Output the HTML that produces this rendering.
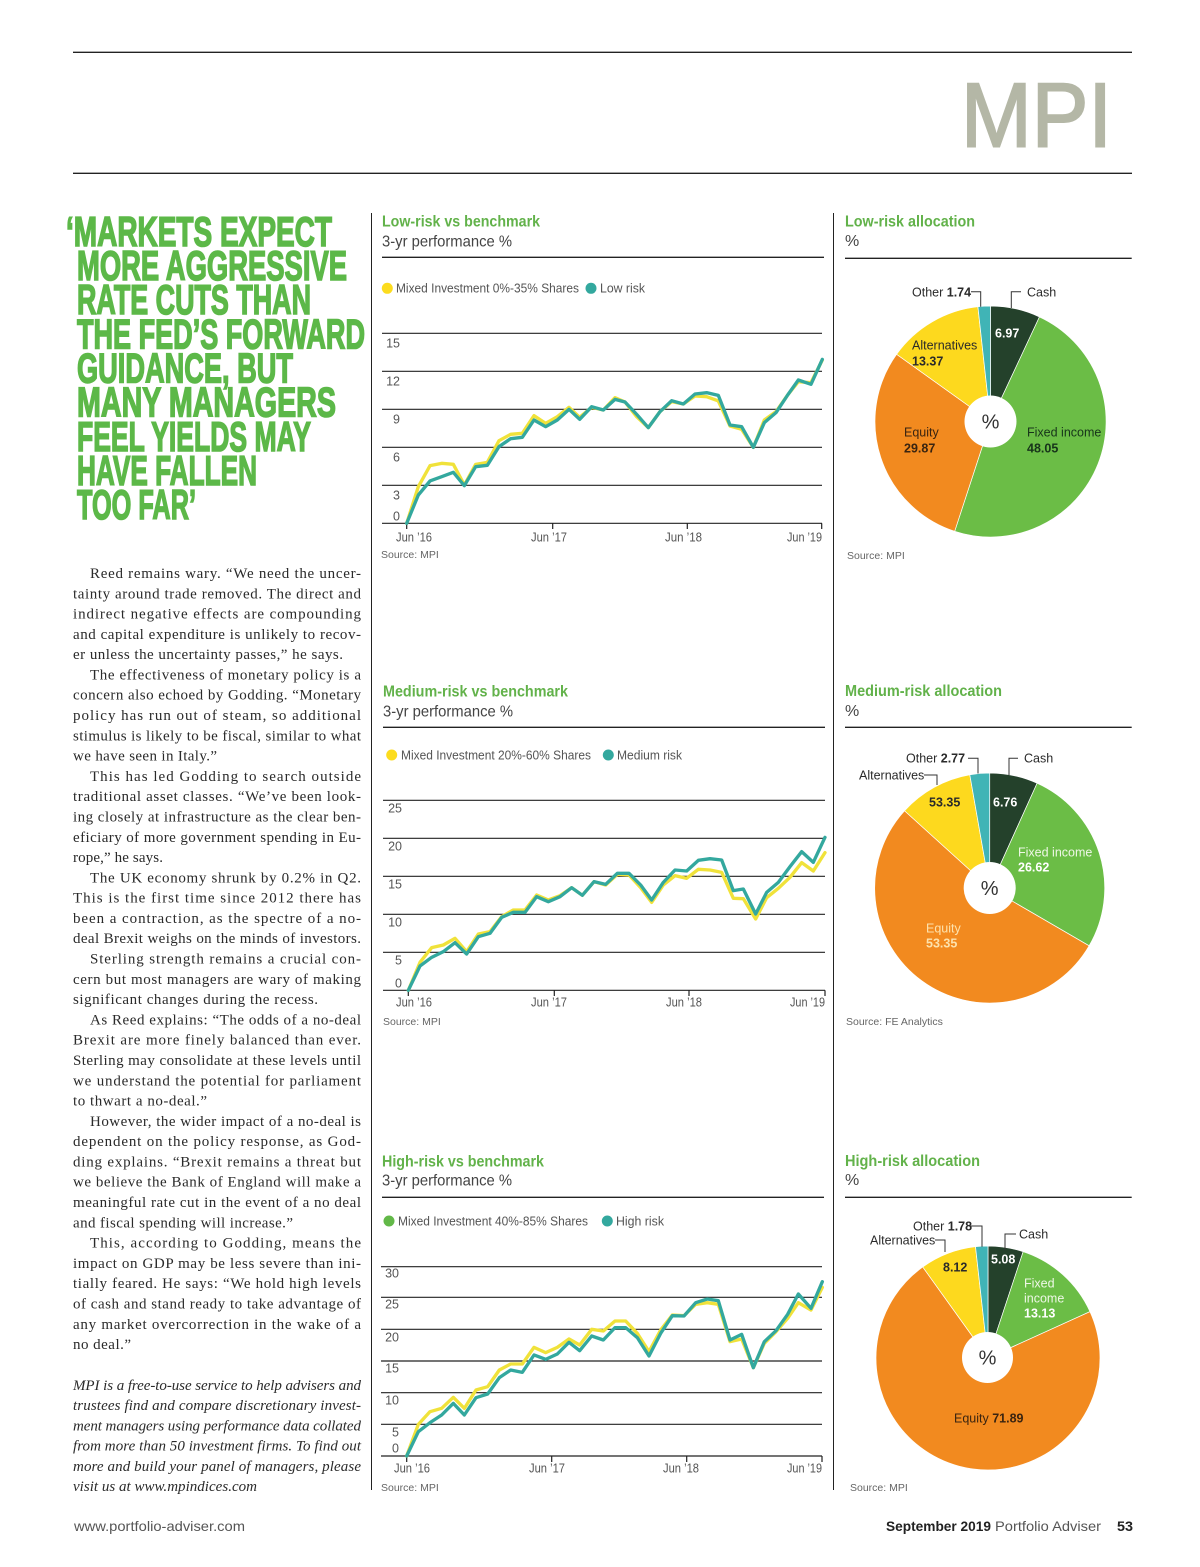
<!DOCTYPE html>
<html><head><meta charset="utf-8">
<style>
html,body{margin:0;padding:0;background:#fff;}
svg{display:block;}
.b{font-family:"Liberation Serif",serif;font-size:15px;fill:#2a2a2a;}
.bi{font-family:"Liberation Serif",serif;font-size:15px;font-style:italic;fill:#2a2a2a;}
.hd{font-family:"Liberation Sans",sans-serif;font-weight:bold;font-size:42px;fill:#5cb848;stroke:#5cb848;stroke-width:1.6;}
.t{font-family:"Liberation Sans",sans-serif;font-weight:bold;font-size:16px;fill:#62b24a;}
.st{font-family:"Liberation Sans",sans-serif;font-size:16px;fill:#444;}
.lg{font-family:"Liberation Sans",sans-serif;font-size:12.5px;fill:#555;}
.tk{font-family:"Liberation Sans",sans-serif;font-size:12.5px;fill:#555;}
.src{font-family:"Liberation Sans",sans-serif;font-size:10.5px;fill:#666;}
.pl{font-family:"Liberation Sans",sans-serif;font-size:12.5px;fill:#2a2a2a;}
.pb{font-weight:bold;}
.ft{font-family:"Liberation Sans",sans-serif;font-size:14px;fill:#555;}
</style></head>
<body>
<svg width="1200" height="1567" viewBox="0 0 1200 1567" xmlns="http://www.w3.org/2000/svg">
<rect width="1200" height="1567" fill="#fff"/>

<!-- header -->
<line x1="73" y1="52.3" x2="1132" y2="52.3" stroke="#222" stroke-width="1.3"/>
<line x1="73" y1="173.3" x2="1132" y2="173.3" stroke="#222" stroke-width="1.3"/>
<text x="961" y="146.5" font-family="Liberation Sans, sans-serif" font-size="91" fill="#b4b7a6" stroke="#b4b7a6" stroke-width="2" textLength="151" lengthAdjust="spacingAndGlyphs">MPI</text>

<!-- vertical dividers -->
<line x1="371.5" y1="213" x2="371.5" y2="1490" stroke="#222" stroke-width="1"/>
<line x1="833.5" y1="213" x2="833.5" y2="1490" stroke="#222" stroke-width="1"/>

<!-- headline -->
<text class="hd" x="66" y="246" textLength="266" lengthAdjust="spacingAndGlyphs">‘MARKETS EXPECT</text>
<text class="hd" x="77" y="280" textLength="270" lengthAdjust="spacingAndGlyphs">MORE AGGRESSIVE</text>
<text class="hd" x="77" y="314" textLength="234" lengthAdjust="spacingAndGlyphs">RATE CUTS THAN</text>
<text class="hd" x="77" y="348.5" textLength="288" lengthAdjust="spacingAndGlyphs">THE FED’S FORWARD</text>
<text class="hd" x="77" y="382.5" textLength="216" lengthAdjust="spacingAndGlyphs">GUIDANCE, BUT</text>
<text class="hd" x="77" y="416.5" textLength="259" lengthAdjust="spacingAndGlyphs">MANY MANAGERS</text>
<text class="hd" x="77" y="451" textLength="234" lengthAdjust="spacingAndGlyphs">FEEL YIELDS MAY</text>
<text class="hd" x="77" y="485" textLength="180" lengthAdjust="spacingAndGlyphs">HAVE FALLEN</text>
<text class="hd" x="77" y="519" textLength="119" lengthAdjust="spacingAndGlyphs">TOO FAR’</text>

<!-- body text -->
<text class="b" x="90" y="578" textLength="271" lengthAdjust="spacing">Reed remains wary. “We need the uncer-</text>
<text class="b" x="73" y="598.3" textLength="288" lengthAdjust="spacing">tainty around trade removed. The direct and</text>
<text class="b" x="73" y="618.6" textLength="288" lengthAdjust="spacing">indirect negative effects are compounding</text>
<text class="b" x="73" y="638.9" textLength="288" lengthAdjust="spacing">and capital expenditure is unlikely to recov-</text>
<text class="b" x="73" y="659.2" textLength="270" lengthAdjust="spacing">er unless the uncertainty passes,” he says.</text>
<text class="b" x="90" y="679.5" textLength="271" lengthAdjust="spacing">The effectiveness of monetary policy is a</text>
<text class="b" x="73" y="699.7" textLength="288" lengthAdjust="spacing">concern also echoed by Godding. “Monetary</text>
<text class="b" x="73" y="720" textLength="288" lengthAdjust="spacing">policy has run out of steam, so additional</text>
<text class="b" x="73" y="740.3" textLength="288" lengthAdjust="spacing">stimulus is likely to be fiscal, similar to what</text>
<text class="b" x="73" y="760.6" textLength="144" lengthAdjust="spacing">we have seen in Italy.”</text>
<text class="b" x="90" y="780.9" textLength="271" lengthAdjust="spacing">This has led Godding to search outside</text>
<text class="b" x="73" y="801.2" textLength="288" lengthAdjust="spacing">traditional asset classes. “We’ve been look-</text>
<text class="b" x="73" y="821.5" textLength="288" lengthAdjust="spacing">ing closely at infrastructure as the clear ben-</text>
<text class="b" x="73" y="841.8" textLength="288" lengthAdjust="spacing">eficiary of more government spending in Eu-</text>
<text class="b" x="73" y="862.1" textLength="90" lengthAdjust="spacing">rope,” he says.</text>
<text class="b" x="90" y="882.4" textLength="271" lengthAdjust="spacing">The UK economy shrunk by 0.2% in Q2.</text>
<text class="b" x="73" y="902.7" textLength="288" lengthAdjust="spacing">This is the first time since 2012 there has</text>
<text class="b" x="73" y="923" textLength="288" lengthAdjust="spacing">been a contraction, as the spectre of a no-</text>
<text class="b" x="73" y="943.2" textLength="288" lengthAdjust="spacing">deal Brexit weighs on the minds of investors.</text>
<text class="b" x="90" y="963.5" textLength="271" lengthAdjust="spacing">Sterling strength remains a crucial con-</text>
<text class="b" x="73" y="983.8" textLength="288" lengthAdjust="spacing">cern but most managers are wary of making</text>
<text class="b" x="73" y="1004.1" textLength="245" lengthAdjust="spacing">significant changes during the recess.</text>
<text class="b" x="90" y="1024.4" textLength="271" lengthAdjust="spacing">As Reed explains: “The odds of a no-deal</text>
<text class="b" x="73" y="1044.7" textLength="288" lengthAdjust="spacing">Brexit are more finely balanced than ever.</text>
<text class="b" x="73" y="1065" textLength="288" lengthAdjust="spacing">Sterling may consolidate at these levels until</text>
<text class="b" x="73" y="1085.3" textLength="288" lengthAdjust="spacing">we understand the potential for parliament</text>
<text class="b" x="73" y="1105.6" textLength="134" lengthAdjust="spacing">to thwart a no-deal.”</text>
<text class="b" x="90" y="1125.9" textLength="271" lengthAdjust="spacing">However, the wider impact of a no-deal is</text>
<text class="b" x="73" y="1146.2" textLength="288" lengthAdjust="spacing">dependent on the policy response, as God-</text>
<text class="b" x="73" y="1166.4" textLength="288" lengthAdjust="spacing">ding explains. “Brexit remains a threat but</text>
<text class="b" x="73" y="1186.7" textLength="288" lengthAdjust="spacing">we believe the Bank of England will make a</text>
<text class="b" x="73" y="1207" textLength="288" lengthAdjust="spacing">meaningful rate cut in the event of a no deal</text>
<text class="b" x="73" y="1227.3" textLength="220" lengthAdjust="spacing">and fiscal spending will increase.”</text>
<text class="b" x="90" y="1247.6" textLength="271" lengthAdjust="spacing">This, according to Godding, means the</text>
<text class="b" x="73" y="1267.9" textLength="288" lengthAdjust="spacing">impact on GDP may be less severe than ini-</text>
<text class="b" x="73" y="1288.2" textLength="288" lengthAdjust="spacing">tially feared. He says: “We hold high levels</text>
<text class="b" x="73" y="1308.5" textLength="288" lengthAdjust="spacing">of cash and stand ready to take advantage of</text>
<text class="b" x="73" y="1328.8" textLength="288" lengthAdjust="spacing">any market overcorrection in the wake of a</text>
<text class="b" x="73" y="1349" textLength="58" lengthAdjust="spacing">no deal.”</text>

<text class="bi" x="73" y="1390" textLength="288" lengthAdjust="spacing">MPI is a free-to-use service to help advisers and</text>
<text class="bi" x="73" y="1410.2" textLength="288" lengthAdjust="spacing">trustees find and compare discretionary invest-</text>
<text class="bi" x="73" y="1430.4" textLength="288" lengthAdjust="spacing">ment managers using performance data collated</text>
<text class="bi" x="73" y="1450.6" textLength="288" lengthAdjust="spacing">from more than 50 investment firms. To find out</text>
<text class="bi" x="73" y="1470.8" textLength="288" lengthAdjust="spacing">more and build your panel of managers, please</text>
<text class="bi" x="73" y="1491" textLength="184" lengthAdjust="spacing">visit us at www.mpindices.com</text>

<!-- ============ LOW RISK LINE CHART ============ -->
<text class="t" x="382" y="226.5" textLength="158" lengthAdjust="spacingAndGlyphs">Low-risk vs benchmark</text>
<text class="st" x="382" y="246.5" textLength="130" lengthAdjust="spacingAndGlyphs">3-yr performance %</text>
<line x1="382" y1="257.3" x2="824" y2="257.3" stroke="#222" stroke-width="1.3"/>
<circle cx="387.3" cy="288.3" r="5.5" fill="#fcdc1e"/>
<text class="lg" x="396" y="292.5" textLength="183" lengthAdjust="spacingAndGlyphs">Mixed Investment 0%-35% Shares</text>
<circle cx="591" cy="288.3" r="5.5" fill="#33a89e"/>
<text class="lg" x="600" y="292.5" textLength="45" lengthAdjust="spacingAndGlyphs">Low risk</text>
<g stroke="#222" stroke-width="1.2">
<line x1="382" y1="333.3" x2="822" y2="333.3"/>
<line x1="382" y1="371.3" x2="822" y2="371.3"/>
<line x1="382" y1="409.3" x2="822" y2="409.3"/>
<line x1="382" y1="447.3" x2="822" y2="447.3"/>
<line x1="382" y1="485.3" x2="822" y2="485.3"/>
<line x1="382" y1="523.3" x2="822" y2="523.3"/>
<line x1="406.7" y1="523.3" x2="406.7" y2="529"/>
<line x1="552.7" y1="523.3" x2="552.7" y2="529"/>
<line x1="687.3" y1="523.3" x2="687.3" y2="529"/>
<line x1="821.7" y1="523.3" x2="821.7" y2="529"/>
</g>
<g class="tk" text-anchor="end">
<text x="400" y="347.5">15</text>
<text x="400" y="385.5">12</text>
<text x="400" y="423.5">9</text>
<text x="400" y="461.5">6</text>
<text x="400" y="499.5">3</text>
<text x="400" y="520.5">0</text>
</g>
<g class="tk">
<text x="396" y="541.5" textLength="36" lengthAdjust="spacingAndGlyphs">Jun ’16</text>
<text x="531" y="541.5" textLength="36" lengthAdjust="spacingAndGlyphs">Jun ’17</text>
<text x="665" y="541.5" textLength="37" lengthAdjust="spacingAndGlyphs">Jun ’18</text>
<text x="787" y="541.5" textLength="35" lengthAdjust="spacingAndGlyphs">Jun ’19</text>
</g>
<text class="src" x="381" y="558">Source: MPI</text>
<g transform="translate(375 200) scale(0.333333)" fill="none" stroke-width="10" stroke-linejoin="round" stroke-linecap="round">
<polyline stroke="#f0e23a" points="95,970 130,860 165,797 200,790 235,793 268,855 302,793 337,787 372,722 407,703 442,700 477,647 512,670 547,650 582,622 614,652 650,622 685,630 720,593 750,606 785,650 820,683 855,635 890,605 925,612 960,588 995,590 1030,603 1065,678 1100,688 1135,742 1168,660 1203,635 1238,585 1270,545 1308,548 1342,480"/>
<polyline stroke="#33a89e" points="95,970 130,885 165,843 200,830 235,817 268,857 302,800 337,796 372,740 407,716 442,712 477,660 512,680 547,660 582,628 614,658 650,620 685,630 720,598 750,606 785,643 820,683 855,635 890,602 925,612 960,582 995,578 1030,586 1065,675 1100,680 1135,742 1168,668 1203,638 1238,585 1270,540 1308,553 1342,478"/>
</g>

<!-- ============ MEDIUM RISK LINE CHART ============ -->
<text class="t" x="383" y="696.5" textLength="185" lengthAdjust="spacingAndGlyphs">Medium-risk vs benchmark</text>
<text class="st" x="383" y="716.5" textLength="130" lengthAdjust="spacingAndGlyphs">3-yr performance %</text>
<line x1="383" y1="727.3" x2="825" y2="727.3" stroke="#222" stroke-width="1.3"/>
<circle cx="391.7" cy="755" r="5.5" fill="#fcdc1e"/>
<text class="lg" x="401" y="759.5" textLength="190" lengthAdjust="spacingAndGlyphs">Mixed Investment 20%-60% Shares</text>
<circle cx="608.3" cy="755" r="5.5" fill="#33a89e"/>
<text class="lg" x="617" y="759.5" textLength="65" lengthAdjust="spacingAndGlyphs">Medium risk</text>
<g stroke="#222" stroke-width="1.2">
<line x1="383" y1="800.3" x2="825" y2="800.3"/>
<line x1="383" y1="838.3" x2="825" y2="838.3"/>
<line x1="383" y1="876.3" x2="825" y2="876.3"/>
<line x1="383" y1="914.3" x2="825" y2="914.3"/>
<line x1="383" y1="952.3" x2="825" y2="952.3"/>
<line x1="383" y1="990.3" x2="825" y2="990.3"/>
<line x1="408.3" y1="990.3" x2="408.3" y2="996"/>
<line x1="554.3" y1="990.3" x2="554.3" y2="996"/>
<line x1="689" y1="990.3" x2="689" y2="996"/>
<line x1="825" y1="990.3" x2="825" y2="996"/>
</g>
<g class="tk" text-anchor="end">
<text x="402" y="812.5">25</text>
<text x="402" y="850.5">20</text>
<text x="402" y="888.5">15</text>
<text x="402" y="926.5">10</text>
<text x="402" y="964.5">5</text>
<text x="402" y="987.5">0</text>
</g>
<g class="tk">
<text x="396" y="1006.5" textLength="36" lengthAdjust="spacingAndGlyphs">Jun ’16</text>
<text x="531" y="1006.5" textLength="36" lengthAdjust="spacingAndGlyphs">Jun ’17</text>
<text x="666" y="1006.5" textLength="36" lengthAdjust="spacingAndGlyphs">Jun ’18</text>
<text x="790" y="1006.5" textLength="35" lengthAdjust="spacingAndGlyphs">Jun ’19</text>
</g>
<text class="src" x="383" y="1025">Source: MPI</text>
<g transform="translate(375 670) scale(0.333333)" fill="none" stroke-width="10" stroke-linejoin="round" stroke-linecap="round">
<polyline stroke="#f0e23a" points="100,961 135,877 170,833 205,825 240,805 275,845 310,792 345,785 380,740 415,720 450,720 485,675 520,690 555,677 590,653 622,676 657,635 692,645 727,613 762,615 797,653 830,697 865,645 900,617 935,625 970,598 1005,600 1040,607 1075,685 1105,686 1142,747 1175,683 1210,655 1245,622 1280,578 1315,603 1350,548"/>
<polyline stroke="#33a89e" points="100,961 135,888 170,862 205,845 240,818 275,852 310,800 345,790 380,742 415,727 450,727 485,680 520,695 555,680 590,653 622,676 657,635 692,643 727,610 762,610 797,645 830,690 865,637 900,600 935,603 970,571 1005,566 1040,570 1075,662 1105,657 1142,732 1175,667 1210,637 1245,590 1280,545 1315,577 1350,502"/>
</g>

<!-- ============ HIGH RISK LINE CHART ============ -->
<text class="t" x="382" y="1166.5" textLength="162" lengthAdjust="spacingAndGlyphs">High-risk vs benchmark</text>
<text class="st" x="382" y="1185.7" textLength="130" lengthAdjust="spacingAndGlyphs">3-yr performance %</text>
<line x1="382" y1="1197.3" x2="824" y2="1197.3" stroke="#222" stroke-width="1.3"/>
<circle cx="389" cy="1221" r="5.5" fill="#62b848"/>
<text class="lg" x="398" y="1225.5" textLength="190" lengthAdjust="spacingAndGlyphs">Mixed Investment 40%-85% Shares</text>
<circle cx="607.3" cy="1221" r="5.5" fill="#33a89e"/>
<text class="lg" x="616" y="1225.5" textLength="48" lengthAdjust="spacingAndGlyphs">High risk</text>
<g stroke="#222" stroke-width="1.2">
<line x1="381" y1="1266.7" x2="822" y2="1266.7"/>
<line x1="381" y1="1297.3" x2="822" y2="1297.3"/>
<line x1="381" y1="1329.3" x2="822" y2="1329.3"/>
<line x1="381" y1="1361" x2="822" y2="1361"/>
<line x1="381" y1="1392.7" x2="822" y2="1392.7"/>
<line x1="381" y1="1424.3" x2="822" y2="1424.3"/>
<line x1="381" y1="1456" x2="822" y2="1456"/>
<line x1="406.7" y1="1456" x2="406.7" y2="1462"/>
<line x1="551.7" y1="1456" x2="551.7" y2="1462"/>
<line x1="686.7" y1="1456" x2="686.7" y2="1462"/>
<line x1="822" y1="1456" x2="822" y2="1462"/>
</g>
<g class="tk" text-anchor="end">
<text x="399" y="1277.5">30</text>
<text x="399" y="1308.5">25</text>
<text x="399" y="1341.5">20</text>
<text x="399" y="1372.5">15</text>
<text x="399" y="1404.5">10</text>
<text x="399" y="1436.5">5</text>
<text x="399" y="1452.5">0</text>
</g>
<g class="tk">
<text x="394" y="1472.5" textLength="36" lengthAdjust="spacingAndGlyphs">Jun ’16</text>
<text x="529" y="1472.5" textLength="36" lengthAdjust="spacingAndGlyphs">Jun ’17</text>
<text x="663" y="1472.5" textLength="36" lengthAdjust="spacingAndGlyphs">Jun ’18</text>
<text x="787" y="1472.5" textLength="35" lengthAdjust="spacingAndGlyphs">Jun ’19</text>
</g>
<text class="src" x="381" y="1491">Source: MPI</text>
<g transform="translate(375 1140) scale(0.333333)" fill="none" stroke-width="10" stroke-linejoin="round" stroke-linecap="round">
<polyline stroke="#f0e23a" points="95,948 130,853 165,815 200,805 235,772 268,805 303,750 338,740 373,690 407,672 442,672 477,622 512,638 547,622 582,597 614,615 650,568 685,573 720,543 752,543 787,580 822,635 857,570 892,525 927,527 962,493 997,488 1030,493 1065,605 1100,597 1135,683 1168,610 1203,575 1238,535 1270,488 1308,510 1342,442"/>
<polyline stroke="#33a89e" points="95,948 130,875 165,848 200,825 235,790 268,825 303,773 338,762 373,713 407,690 442,697 477,645 512,658 547,642 582,607 614,632 650,588 685,600 720,563 752,563 787,593 822,648 857,580 892,527 927,528 962,488 997,477 1030,482 1065,600 1100,583 1135,683 1168,605 1203,572 1238,523 1270,462 1308,505 1342,425"/>
</g>

<!-- ============ LOW RISK PIE ============ -->
<text class="t" x="845" y="226.7" textLength="130" lengthAdjust="spacingAndGlyphs">Low-risk allocation</text>
<text class="st" x="845" y="246">%</text>
<line x1="845" y1="258.3" x2="1131.7" y2="258.3" stroke="#222" stroke-width="1.3"/>
<g stroke="#fff" stroke-width="0.7">
<path d="M990.5,421.5 L990.5,306 A115.5,115.5 0 0 1 1039.47,316.89 Z" fill="#24412b"/>
<path d="M990.5,421.5 L1039.47,316.89 A115.5,115.5 0 0 1 954.67,531.31 Z" fill="#6bbd46"/>
<path d="M990.5,421.5 L954.67,531.31 A115.5,115.5 0 0 1 896.59,354.27 Z" fill="#f28a1f"/>
<path d="M990.5,421.5 L896.59,354.27 A115.5,115.5 0 0 1 977.91,306.69 Z" fill="#fdd91e"/>
<path d="M990.5,421.5 L977.91,306.69 A115.5,115.5 0 0 1 990.5,306 Z" fill="#40b4b6"/>
</g>
<circle cx="990.5" cy="421.5" r="26" fill="#fff"/>
<text x="990.5" y="428.5" text-anchor="middle" font-family="Liberation Sans, sans-serif" font-size="20" fill="#333">%</text>
<path d="M971,291.7 H980.7 V306.7 M1021,291.7 H1011.3 V308" fill="none" stroke="#333" stroke-width="1"/>
<text class="pl" x="912" y="296.5">Other <tspan class="pb">1.74</tspan></text>
<text class="pl" x="1027" y="296.5">Cash</text>
<text class="pl pb" x="995" y="337.5" style="fill:#fff">6.97</text>
<text class="pl" x="912" y="349.5">Alternatives</text>
<text class="pl pb" x="912" y="365.5">13.37</text>
<text class="pl" x="904" y="436.5" style="fill:#3a2410">Equity</text>
<text class="pl pb" x="904" y="452.5" style="fill:#3a2410">29.87</text>
<text class="pl" x="1027" y="436.5" style="fill:#17341a">Fixed income</text>
<text class="pl pb" x="1027" y="452.5" style="fill:#17341a">48.05</text>
<text class="src" x="847" y="559">Source: MPI</text>

<!-- ============ MEDIUM RISK PIE ============ -->
<text class="t" x="845" y="696" textLength="157" lengthAdjust="spacingAndGlyphs">Medium-risk allocation</text>
<text class="st" x="845" y="716">%</text>
<line x1="845" y1="727.3" x2="1131.7" y2="727.3" stroke="#222" stroke-width="1.3"/>
<g stroke="#fff" stroke-width="0.7">
<path d="M989.7,888 L989.7,773 A115,115 0 0 1 1037.1,783.22 Z" fill="#24412b"/>
<path d="M989.7,888 L1037.1,783.22 A115,115 0 0 1 1089.12,945.8 Z" fill="#6bbd46"/>
<path d="M989.7,888 L1089.12,945.8 A115,115 0 1 1 904.54,810.72 Z" fill="#f28a1f"/>
<path d="M989.7,888 L904.54,810.72 A115,115 0 0 1 969.79,774.74 Z" fill="#fdd91e"/>
<path d="M989.7,888 L969.79,774.74 A115,115 0 0 1 989.7,773 Z" fill="#40b4b6"/>
</g>
<circle cx="989.7" cy="888" r="26" fill="#fff"/>
<text x="989.7" y="895" text-anchor="middle" font-family="Liberation Sans, sans-serif" font-size="20" fill="#333">%</text>
<path d="M968,758.3 H978 V773.5 M1018,758.3 H1009 V775 M924,775 H937 V785" fill="none" stroke="#333" stroke-width="1"/>
<text class="pl" x="906" y="762.5">Other <tspan class="pb">2.77</tspan></text>
<text class="pl" x="1024" y="762.5">Cash</text>
<text class="pl" x="859" y="779.5">Alternatives</text>
<text class="pl pb" x="929" y="806.5">53.35</text>
<text class="pl pb" x="993" y="806.5" style="fill:#fff">6.76</text>
<text class="pl" x="1018" y="856.5" style="fill:#eef7e6">Fixed income</text>
<text class="pl pb" x="1018" y="871.5" style="fill:#fff">26.62</text>
<text class="pl" x="926" y="932.5" style="fill:#fde2ad">Equity</text>
<text class="pl pb" x="926" y="947.5" style="fill:#fde2ad">53.35</text>
<text class="src" x="846" y="1025">Source: FE Analytics</text>

<!-- ============ HIGH RISK PIE ============ -->
<text class="t" x="845" y="1166" textLength="135" lengthAdjust="spacingAndGlyphs">High-risk allocation</text>
<text class="st" x="845" y="1185">%</text>
<line x1="845" y1="1197.3" x2="1131.7" y2="1197.3" stroke="#222" stroke-width="1.3"/>
<g stroke="#fff" stroke-width="0.7">
<path d="M988,1358 L988,1246 A112,112 0 0 1 1023.15,1251.66 Z" fill="#24412b"/>
<path d="M988,1358 L1023.15,1251.66 A112,112 0 0 1 1089.96,1311.65 Z" fill="#6bbd46"/>
<path d="M988,1358 L1089.96,1311.65 A112,112 0 1 1 922.74,1266.98 Z" fill="#f28a1f"/>
<path d="M988,1358 L922.74,1266.98 A112,112 0 0 1 975.5,1246.69 Z" fill="#fdd91e"/>
<path d="M988,1358 L975.5,1246.69 A112,112 0 0 1 988,1246 Z" fill="#40b4b6"/>
</g>
<circle cx="987.5" cy="1357.5" r="25.5" fill="#fff"/>
<text x="987.5" y="1364.5" text-anchor="middle" font-family="Liberation Sans, sans-serif" font-size="20" fill="#333">%</text>
<path d="M969,1226 H982 V1246.7 M935,1240 H945 V1252 M1016,1234 H1005 V1250" fill="none" stroke="#333" stroke-width="1"/>
<text class="pl" x="913" y="1230.5">Other <tspan class="pb">1.78</tspan></text>
<text class="pl" x="870" y="1244.5">Alternatives</text>
<text class="pl" x="1019" y="1238.5">Cash</text>
<text class="pl pb" x="943" y="1271.5">8.12</text>
<text class="pl pb" x="991" y="1263.5" style="fill:#fff">5.08</text>
<text class="pl" x="1024" y="1287.5" style="fill:#eef7e6">Fixed</text>
<text class="pl" x="1024" y="1302.5" style="fill:#eef7e6">income</text>
<text class="pl pb" x="1024" y="1317.5" style="fill:#fff">13.13</text>
<text class="pl" x="954" y="1422.5" style="fill:#3a2410">Equity <tspan class="pb">71.89</tspan></text>
<text class="src" x="850" y="1491">Source: MPI</text>

<!-- footer -->
<text class="ft" x="74" y="1531" textLength="171" lengthAdjust="spacingAndGlyphs">www.portfolio-adviser.com</text>
<text class="ft" x="886" y="1531" font-weight="bold" style="fill:#222" textLength="105" lengthAdjust="spacingAndGlyphs">September 2019</text>
<text class="ft" x="995" y="1531" textLength="106" lengthAdjust="spacingAndGlyphs">Portfolio Adviser</text>
<text class="ft" x="1117" y="1531" font-weight="bold" style="fill:#222" textLength="16" lengthAdjust="spacingAndGlyphs">53</text>
</svg>
</body></html>
